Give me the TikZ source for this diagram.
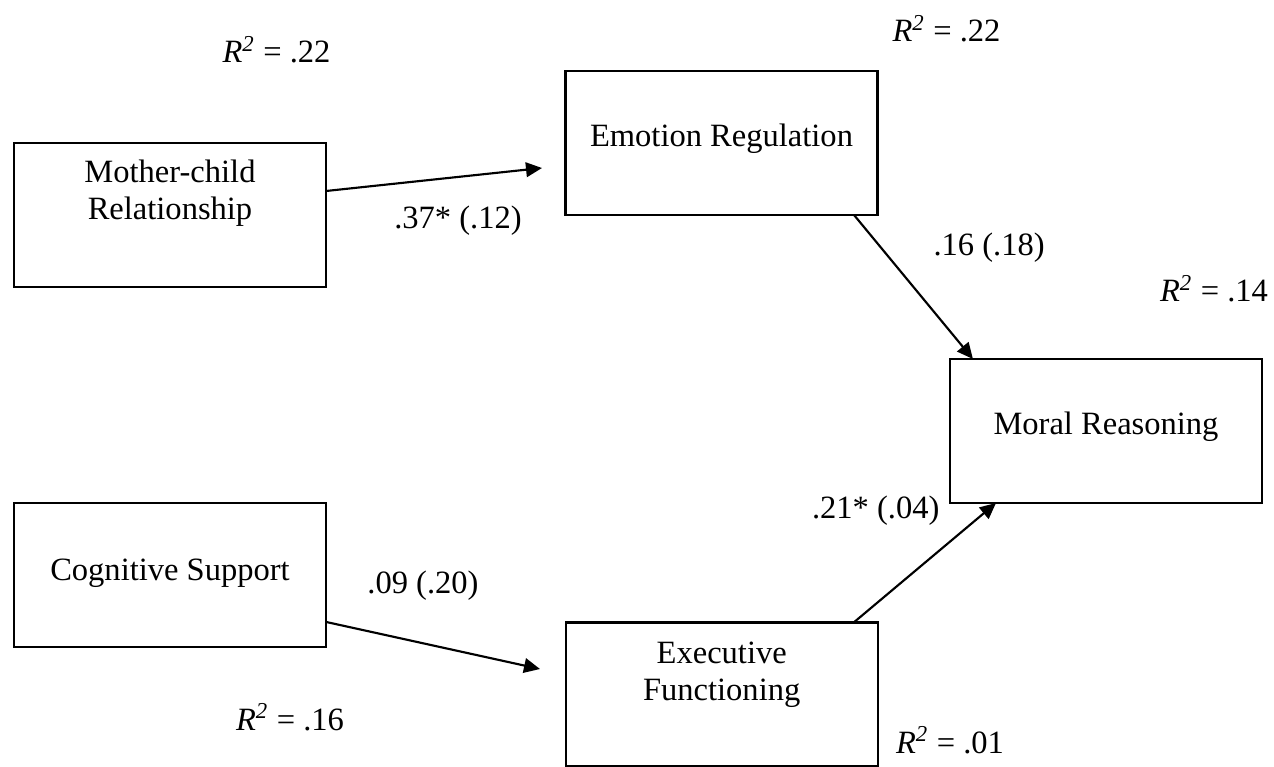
\documentclass[tikz,border=0pt]{standalone}
\usepackage{fontspec}
\setmainfont{Liberation Serif}
\usetikzlibrary{arrows.meta,calc}
\newcommand\rsq{\textit{R}\textsuperscript{\textit{2}}}
\begin{document}
\begin{tikzpicture}[x=0.375pt,y=-0.375pt,
  box/.style={draw,line width=0.8pt,minimum width=117pt,minimum height=54pt,inner sep=0pt,outer sep=0pt},
  txt/.style={inner sep=0pt,anchor=base,font=\fontsize{12.2}{14}\selectfont},
  link/.style={line width=0.8pt,-{Triangle[length=6pt,width=5.5pt]}}]
\useasboundingbox (0,0) rectangle (1274,767);

% variable boxes
\node[box] (mc) at (170,215) {};
\node[box] (er) at (721.5,143) {};
\node[box] (mr) at (1106,431) {};
\node[box] (cs) at (170,575) {};
\node[box] (ef) at (721.7,694.5) {};

% box texts
\node[txt] (mc1) at (170,183) {Mother-child};
\node[txt] (mc2) at (170,219.5) {Relationship};
\node[txt] (er1) at (721.5,146.5) {Emotion Regulation};
\node[txt] (mr1) at (1106,434) {Moral Reasoning};
\node[txt] (cs1) at (170,580) {Cognitive Support};
\node[txt] (ef1) at (721.7,663) {Executive};
\node[txt] (ef2) at (721.7,700) {Functioning};

% paths
\coordinate (t1) at (542,168);
\coordinate (t4) at (540,669);
\draw[link] ([yshift=9pt]mc.east) -- (t1);
\draw[link] ([xshift=49.7pt]er.south) -- ([xshift=-49.9pt]mr.north);
\draw[link] ([xshift=49.5pt]ef.north) -- ([xshift=-41.25pt]mr.south);
\draw[link] ([yshift=-17.6pt]cs.east) -- (t4);

% coefficients
\node[txt] (p1) at (458,228) {.37* (.12)};
\node[txt,anchor=base west] (p2) at (933,255) {.16 (.18)};
\node[txt,anchor=base east] (p3) at (940,518) {.21* (.04)};
\node[txt] (p4) at (423,593) {.09 (.20)};

% explained variance
\node[txt] (r1) at (276.5,62.7) {\rsq{} = .22};
\node[txt] (r2) at (946.5,41.7) {\rsq{} = .22};
\node[txt] (r3) at (1214,302) {\rsq{} = .14};
\node[txt] (r4) at (290,730) {\rsq{} = .16};
\node[txt] (r5) at (950,753) {\rsq{} = .01};
\end{tikzpicture}
\end{document}
